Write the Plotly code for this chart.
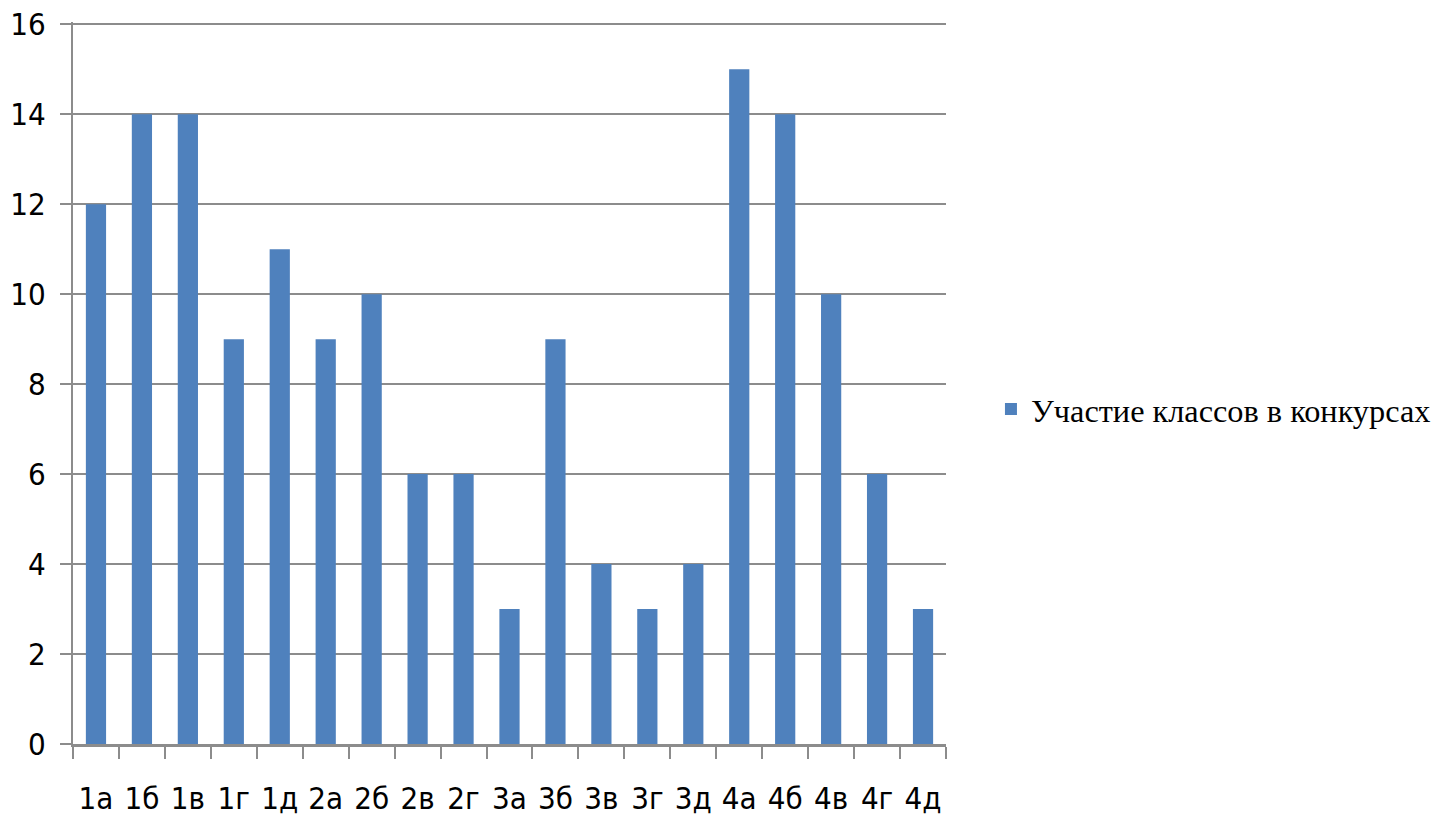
import plotly.graph_objects as go

categories = ["1а", "1б", "1в", "1г", "1д", "2а", "2б", "2в", "2г", "3а", "3б",
              "3в", "3г", "3д", "4а", "4б", "4в", "4г", "4д"]
values = [12, 14, 14, 9, 11, 9, 10, 6, 6, 3, 9, 4, 3, 4, 15, 14, 10, 6, 3]
series_name = "Участие классов в конкурсах"
y_ticks = [0, 2, 4, 6, 8, 10, 12, 14, 16]

label_font = dict(family="DejaVu Sans Condensed, sans-serif", size=31, color="#000000")
grid_color = "#8c8c8c"

fig = go.Figure()
fig.add_trace(go.Bar(x=categories, y=values, name=series_name,
                     marker=dict(color="#4F81BD", line=dict(width=0))))

fig.update_layout(
    width=1435, height=824,
    margin=dict(l=73, r=489, t=22, b=80, autoexpand=False),
    paper_bgcolor="white", plot_bgcolor="white",
    bargap=0.56,
    showlegend=True,
    legend=dict(x=1.0515, y=0.464, xanchor="left", yanchor="middle",
                font=dict(family="Liberation Serif, Times New Roman, serif", size=32.3, color="#000000"),
                itemwidth=30, bgcolor="rgba(0,0,0,0)"),
    font=label_font,
)
fig.update_xaxes(
    type="category", tickson="boundaries", ticks="outside", ticklen=12, tickwidth=2,
    tickcolor=grid_color, showline=True, linecolor=grid_color, linewidth=3,
    showgrid=False, tickfont=label_font, ticklabelstandoff=25, tickangle=0,
    automargin=False,
)
fig.update_yaxes(
    range=[0, 16.05], tickvals=y_ticks, ticks="outside", ticklen=11, tickwidth=2,
    tickcolor=grid_color, showline=True, linecolor=grid_color, linewidth=2,
    showgrid=True, gridcolor=grid_color, gridwidth=2, zeroline=False,
    tickfont=label_font, ticklabelstandoff=8, automargin=False,
    ticklabeloverflow="allow",
)
fig.write_html("out.html", config={"displayModeBar": False},
               post_script="document.body.style.margin='0';")
